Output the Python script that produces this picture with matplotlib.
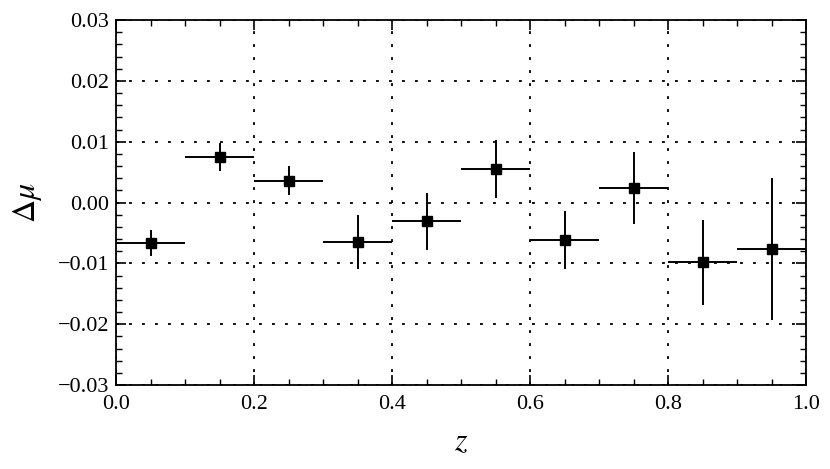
import numpy as np
import matplotlib.pyplot as plt
from matplotlib.ticker import MultipleLocator

plt.rcParams['font.family'] = 'Liberation Serif'
plt.rcParams['mathtext.fontset'] = 'stix'

z = [0.05, 0.15, 0.25, 0.35, 0.45, 0.55, 0.65, 0.75, 0.85, 0.95]
z_err = [0.05] * 10
dmu = [-0.0066, 0.0075, 0.0036, -0.0065, -0.0031, 0.0055, -0.0061, 0.0024, -0.0098, -0.0076]
dmu_err = [0.0021, 0.0023, 0.0024, 0.0044, 0.0047, 0.0048, 0.0048, 0.0059, 0.0070, 0.0117]

fig = plt.figure(figsize=(8.3, 4.69), dpi=100)
ax = fig.add_axes([0.1398, 0.179, 0.8313, 0.778])

ax.errorbar(z, dmu, xerr=z_err, yerr=dmu_err, fmt='s', color='black',
            ms=6.5, elinewidth=1.4, capsize=0)

ax.set_xlim(0, 1)
ax.set_ylim(-0.03, 0.03)
ax.xaxis.set_minor_locator(MultipleLocator(0.05))
ax.yaxis.set_minor_locator(MultipleLocator(0.002))
ax.set_yticks(np.arange(-0.03, 0.0301, 0.01))
ax.set_yticklabels(['\u22120.03', '\u22120.02', '\u22120.01', '0.00', '0.01', '0.02', '0.03'])
ax.set_xticks(np.arange(0, 1.01, 0.2))
ax.set_xticklabels(['0.0', '0.2', '0.4', '0.6', '0.8', '1.0'])

ax.tick_params(which='both', direction='in', top=True, right=True, labelsize=16)
ax.tick_params(axis='y', pad=5)
ax.tick_params(axis='x', pad=7)
ax.tick_params(which='major', length=7, width=1.2)
ax.tick_params(which='minor', length=4, width=1)
for s in ax.spines.values():
    s.set_linewidth(1.3)

ax.grid(True, which='major', color='black', linewidth=1.3, dashes=(1.6, 5.6))

ax.set_xlabel(r'$z$', fontsize=23, labelpad=10)
ax.set_ylabel(r'$\Delta\mu$', fontsize=23, labelpad=10)

fig.savefig('out.png', dpi=100)
